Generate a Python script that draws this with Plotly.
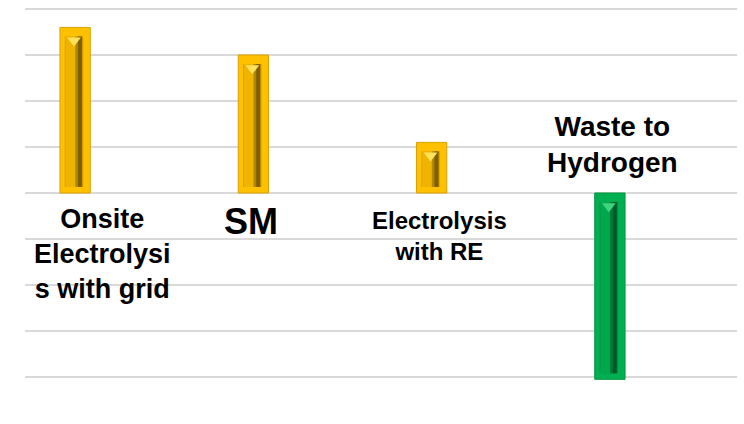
import plotly.graph_objects as go

# Hydrogen production routes and their relative emission index
categories = ["Onsite<br>Electrolysi<br>s with grid", "SM", "Electrolysis<br>with RE", "Waste to<br>Hydrogen"]
values = [3.6, 3.0, 1.1, -4.05]
bar_colors = ["gold", "gold", "gold", "green"]

# bevel palette per colour family: outer, edge, channel, channel shadow, deep shadow, top glint
palette = {
    "gold": ["#FFC000", "#D9A200", "#EFB400", "#B38600", "#7E5F00", "#FFE25A"],
    "green": ["#00B050", "#00923F", "#00A84B", "#007A36", "#005A27", "#3FD27F"],
}

x = list(range(len(categories)))
PX_PER_UNIT = 46.0
inset_top = 9 / PX_PER_UNIT
inset_bot = 6 / PX_PER_UNIT

fig = go.Figure()

def layer(width, offset, color, ys, bases=None, line=None):
    fig.add_trace(go.Bar(
        x=x, y=ys, base=bases, width=width, offset=offset,
        marker=dict(color=color, line=line or dict(width=0)),
        hoverinfo="skip", showlegend=False,
    ))

def pick(k):
    return [palette[c][k] for c in bar_colors]

# outer frame of each bar
layer(0.17, -0.085, pick(0), values, line=dict(width=1, color=pick(1)))

# recessed channel inside each bar
hi = [max(v, 0) - inset_top for v in values]
lo = [min(v, 0) + inset_bot for v in values]
span = [h - l for h, l in zip(hi, lo)]
layer(0.104, -0.058, pick(1), span, bases=lo)
layer(0.094, -0.053, pick(2), span, bases=lo)
layer(0.04, 0.001, pick(3), span, bases=lo)
layer(0.022, 0.016, pick(4), span, bases=lo)

# light glint at the top of each channel
fig.add_trace(go.Scatter(
    x=[i - 0.006 for i in x], y=[h - 0.09 for h in hi], mode="markers",
    marker=dict(symbol="triangle-down", size=12, color=pick(5), line=dict(width=0)),
    hoverinfo="skip", showlegend=False,
))

# category labels
label_font = "Arial, Liberation Sans, sans-serif"
label_specs = [
    dict(size=27, y=-0.2, xshift=27),
    dict(size=36, y=-0.14, xshift=-2),
    dict(size=24, y=-0.27, xshift=8),
    dict(size=28, y=1.83, xshift=3),
]
for i, (cat, spec) in enumerate(zip(categories, label_specs)):
    fig.add_annotation(
        x=i, y=spec["y"], xref="x", yref="y", text=f"<b>{cat}</b>",
        showarrow=False, xanchor="center", yanchor="top", xshift=spec["xshift"],
        font=dict(family=label_font, size=spec["size"], color="#000000"),
        align="center",
    )

top = 4 + 5 / PX_PER_UNIT
fig.update_layout(
    width=744, height=424,
    margin=dict(l=25, r=7, t=4, b=20),
    paper_bgcolor="white", plot_bgcolor="white",
    barmode="overlay",
    xaxis=dict(range=[-0.281, 3.713], showgrid=False, zeroline=False,
               showticklabels=False, showline=False, fixedrange=True),
    yaxis=dict(range=[top - 400 / PX_PER_UNIT, top], tick0=0, dtick=1,
               showgrid=True, gridcolor="#D9D9D9", gridwidth=2,
               zeroline=False, showticklabels=False, showline=False,
               fixedrange=True),
)

fig.write_html("out.html")
